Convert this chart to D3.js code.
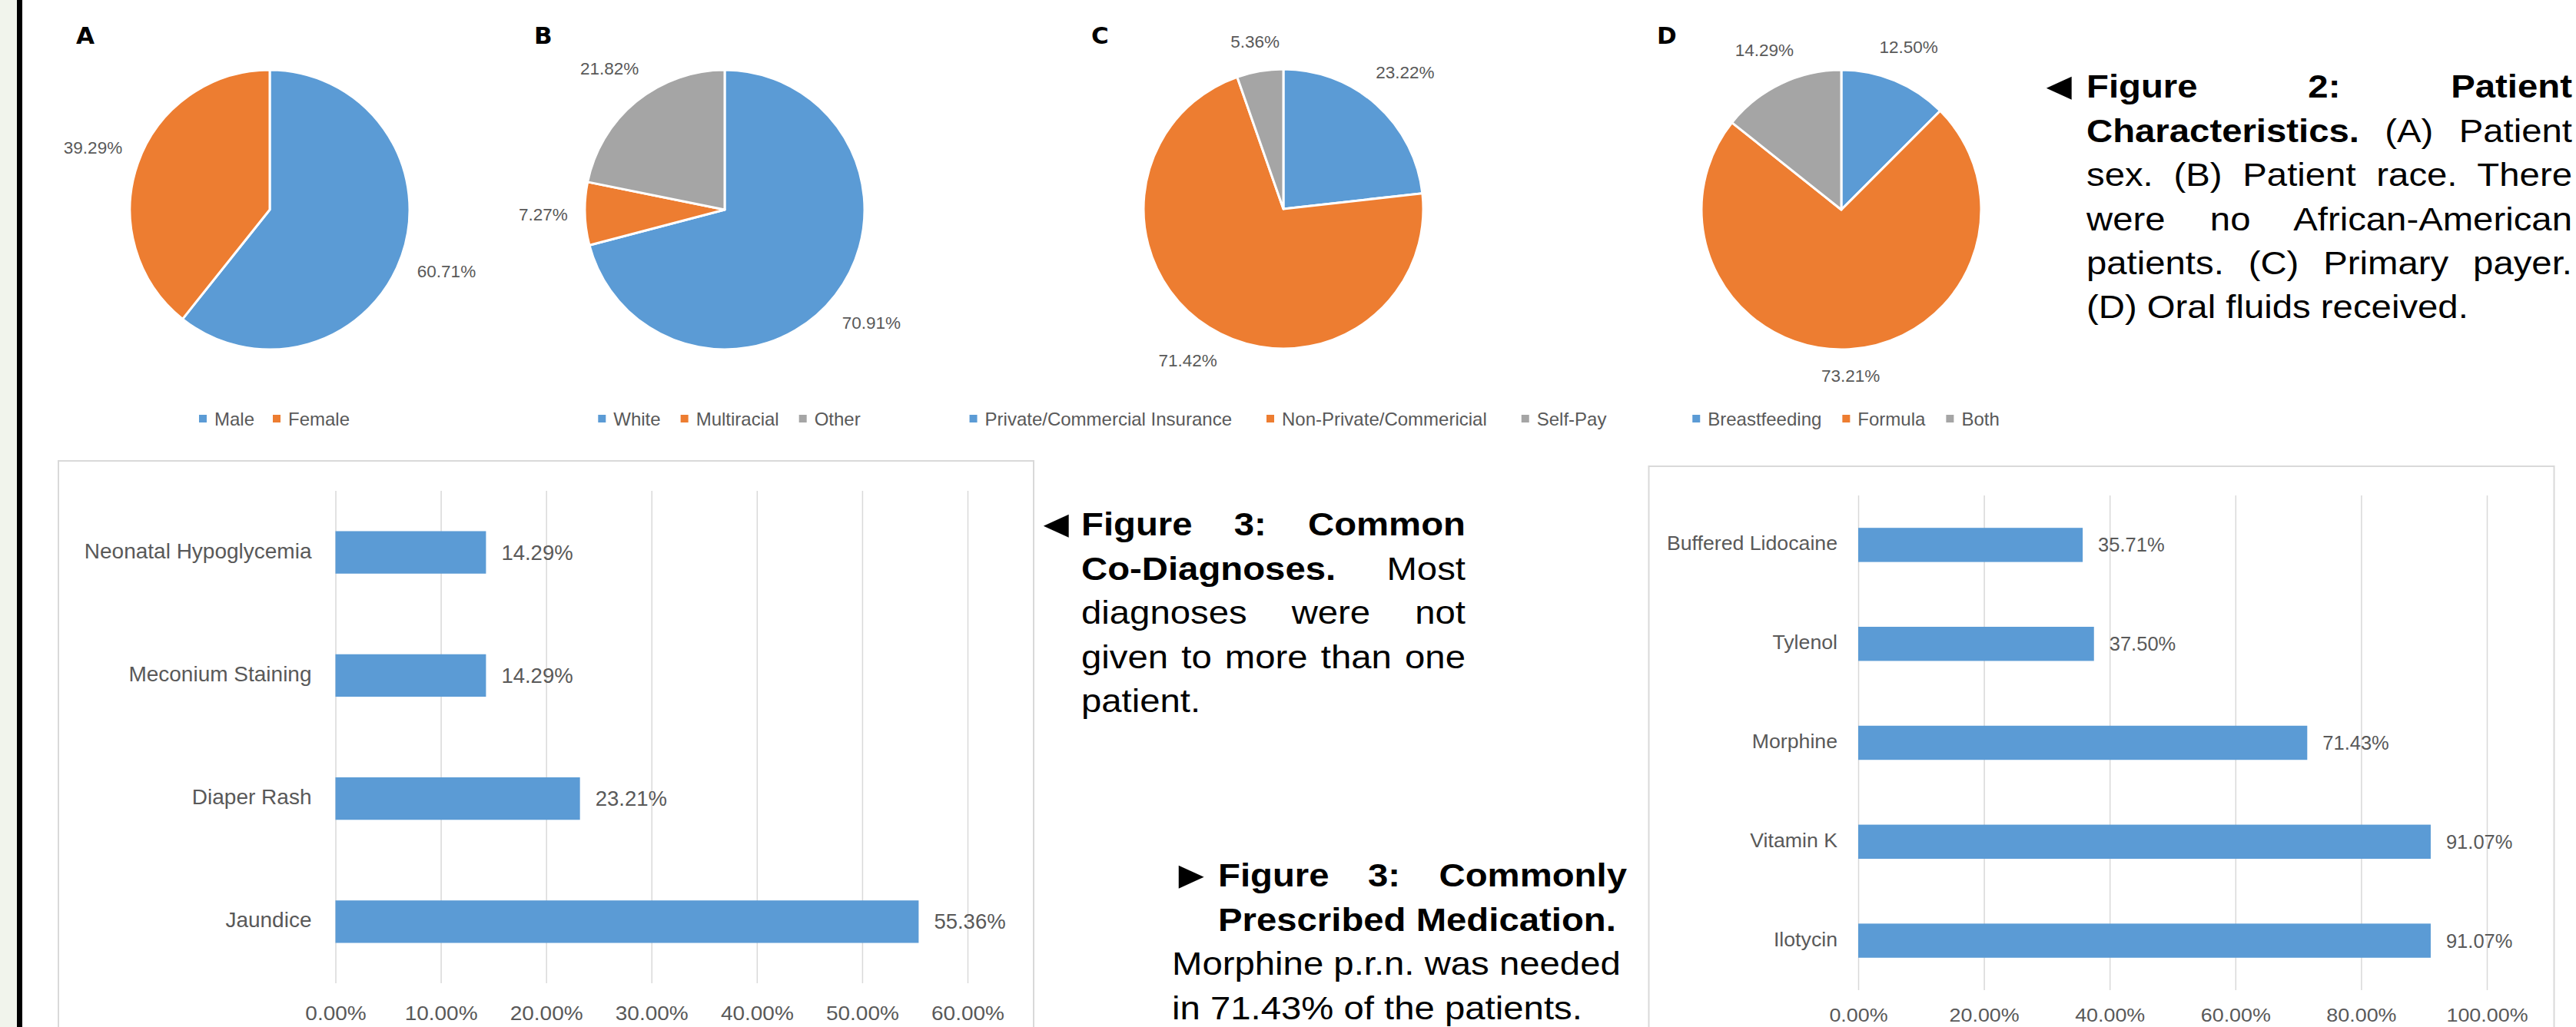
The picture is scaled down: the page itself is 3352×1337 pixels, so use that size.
<!DOCTYPE html>
<html>
<head>
<meta charset="utf-8">
<script src="https://cdn.jsdelivr.net/npm/d3@7"></script>
<style>
body { margin: 0; background: #fff; }
#page { position: relative; width: 3352px; height: 1337px; overflow: hidden; background: #fff; }
#page svg { position: absolute; left: 0; top: 0; }
.cap { position: absolute; font-family: 'Liberation Sans', Arial, sans-serif; font-size: 43px; line-height: 57.4px; color: #000; transform: scaleX(1.1); transform-origin: 0 0; }
.cap div { height: 57.4px; white-space: nowrap; }
.cap div.j { text-align: justify; text-align-last: justify; white-space: normal; }
.cap.arrow { font-size: 50px; }
</style>
</head>
<body>
<div id="page"></div>
<script>
// pie panels
const sexLabels = ['Male', 'Female'];
const sexValues = [60.71, 39.29];
const raceLabels = ['White', 'Multiracial', 'Other'];
const raceValues = [70.91, 7.27, 21.82];
const payerLabels = ['Private/Commercial Insurance', 'Non-Private/Commericial', 'Self-Pay'];
const payerValues = [23.22, 71.42, 5.36];
const fluidLabels = ['Breastfeeding', 'Formula', 'Both'];
const fluidValues = [12.50, 73.21, 14.29];
const pieColors = ['#5b9bd5', '#ed7d31', '#a5a5a5'];

// bar panels
const diagnosisLabels = ['Neonatal Hypoglycemia', 'Meconium Staining', 'Diaper Rash', 'Jaundice'];
const diagnosisValues = [14.29, 14.29, 23.21, 55.36];
const diagnosisTicks = [0, 10, 20, 30, 40, 50, 60];
const medicationLabels = ['Buffered Lidocaine', 'Tylenol', 'Morphine', 'Vitamin K', 'Ilotycin'];
const medicationValues = [35.71, 37.50, 71.43, 91.07, 91.07];
const medicationTicks = [0, 20, 40, 60, 80, 100];

// captions, one entry per printed line; j = justified
const fig2Lines = [
  {html: '<b>Figure 2: Patient</b>', j: true},
  {html: '<b>Characteristics.</b> (A) Patient', j: true},
  {html: 'sex. (B) Patient race. There', j: true},
  {html: 'were no African-American', j: true},
  {html: 'patients. (C) Primary payer.', j: true},
  {html: '(D) Oral fluids received.', j: false}
];
const fig3aLines = [
  {html: '<b>Figure 3: Common</b>', j: true},
  {html: '<b>Co-Diagnoses.</b> Most', j: true},
  {html: 'diagnoses were not', j: true},
  {html: 'given to more than one', j: true},
  {html: 'patient.', j: false}
];
const fig3bHead = [
  {html: '<b>Figure 3: Commonly</b>', j: true},
  {html: '<b>Prescribed Medication.</b>', j: false}
];
const fig3bBody = [
  {html: 'Morphine p.r.n. was needed', j: false},
  {html: 'in 71.43% of the patients.', j: false}
];

const font = "'Liberation Sans', Arial, sans-serif";
const textGrey = '#595959';
const page = d3.select('#page');
const svg = page.append('svg').attr('width', 3352).attr('height', 1337);

svg.append('rect').attr('x', 0).attr('y', 0).attr('width', 22).attr('height', 1337).attr('fill', '#f1f4ec');
svg.append('rect').attr('x', 22).attr('y', 0).attr('width', 7).attr('height', 1337).attr('fill', '#000');

const drawPie = (letter, labels, values, cx, cy, letterX, legendGap) => {
  const r = 182;
  const g = svg.append('g');

  g.append('text').attr('x', letterX).attr('y', 57)
    .attr('font-family', "'DejaVu Sans', sans-serif").attr('font-weight', 'bold')
    .attr('font-size', 31).attr('fill', '#000').text(letter);

  const pie = d3.pie().sort(null).value(d => d);
  const arc = d3.arc().innerRadius(0).outerRadius(r);
  const slices = pie(values);

  g.selectAll('.slice').data(slices).enter().append('path')
    .attr('class', 'slice')
    .attr('transform', `translate(${cx},${cy})`)
    .attr('d', arc)
    .attr('fill', (d, i) => pieColors[i])
    .attr('stroke', '#fff').attr('stroke-width', 3).attr('stroke-linejoin', 'round');

  // labels sit just outside the rim on each slice's middle angle
  g.selectAll('.plabel').data(slices).enter().append('text')
    .attr('class', 'plabel')
    .attr('font-family', font).attr('font-size', 22.5).attr('fill', textGrey)
    .attr('text-anchor', 'middle').attr('dominant-baseline', 'central')
    .text(d => d.data.toFixed(2) + '%')
    .each(function(d) {
      const a = (d.startAngle + d.endAngle) / 2;
      const sx = Math.sin(a), sy = -Math.cos(a);
      const w = this.getComputedTextLength();
      const dist = r + 22 + Math.abs(sx) * w / 2 + Math.abs(sy) * 11;
      d3.select(this).attr('x', cx + sx * dist).attr('y', cy + sy * dist);
    });

  // legend row centred under the pie
  const lg = g.append('g');
  let pos = 0;
  labels.forEach((name, i) => {
    lg.append('rect').attr('x', pos).attr('y', 545 - 5).attr('width', 10).attr('height', 10).attr('fill', pieColors[i]);
    const t = lg.append('text').attr('x', pos + 20).attr('y', 545)
      .attr('dominant-baseline', 'central')
      .attr('font-family', font).attr('font-size', 24).attr('fill', textGrey).text(name);
    pos += 20 + t.node().getComputedTextLength() + legendGap;
  });
  pos -= legendGap;
  lg.attr('transform', `translate(${cx + 6 - pos / 2},0)`);
};

drawPie('A', sexLabels, sexValues, 351, 273, 99, 24);
drawPie('B', raceLabels, raceValues, 943, 273, 695, 26);
drawPie('C', payerLabels, payerValues, 1670, 272, 1420, 45);
drawPie('D', fluidLabels, fluidValues, 2396, 273, 2156, 27);

const drawBars = (labels, values, ticks, box, plot, sizes) => {
  const g = svg.append('g');

  g.append('rect').attr('x', box[0]).attr('y', box[1])
    .attr('width', box[2] - box[0]).attr('height', 1400 - box[1])
    .attr('fill', '#fff').attr('stroke', '#d9d9d9').attr('stroke-width', 2);

  const x = d3.scaleLinear().domain([ticks[0], ticks[ticks.length - 1]]).range([plot[0], plot[1]]);
  const y = d3.scaleBand().domain(labels).range([plot[2], plot[3]])
    .paddingInner(0.655).paddingOuter(0.3275);

  const grid = g.append('g').attr('transform', `translate(0,${plot[3]})`)
    .call(d3.axisBottom(x).tickValues(ticks).tickSize(-(plot[3] - plot[2])).tickFormat(''));
  grid.select('.domain').remove();
  grid.selectAll('.tick line').attr('stroke', '#d9d9d9').attr('stroke-width', 1.5);

  const axis = g.append('g').attr('transform', `translate(0,${plot[3] + sizes.tickGap})`)
    .call(d3.axisBottom(x).tickValues(ticks).tickSize(0).tickPadding(0).tickFormat(d => d.toFixed(2) + '%'));
  axis.select('.domain').remove();
  axis.selectAll('text').attr('font-family', font).attr('font-size', sizes.tick)
    .attr('fill', textGrey).attr('y', 0).attr('dy', null).attr('dominant-baseline', 'central')
    .attr('transform', 'scale(1.12,1)');

  g.selectAll('.bar').data(values).enter().append('rect')
    .attr('class', 'bar')
    .attr('x', x(0))
    .attr('y', (d, i) => y(labels[i]))
    .attr('width', d => x(d) - x(0))
    .attr('height', y.bandwidth())
    .attr('fill', '#5b9bd5');

  g.selectAll('.cat').data(labels).enter().append('text')
    .attr('class', 'cat')
    .attr('x', x(0) - sizes.catGap)
    .attr('y', d => y(d) + y.bandwidth() / 2 - 2)
    .attr('text-anchor', 'end').attr('dominant-baseline', 'central')
    .attr('font-family', font).attr('font-size', sizes.cat).attr('fill', textGrey)
    .text(d => d);

  g.selectAll('.val').data(values).enter().append('text')
    .attr('class', 'val')
    .attr('x', d => x(d) + 20)
    .attr('y', (d, i) => y(labels[i]) + y.bandwidth() / 2)
    .attr('dominant-baseline', 'central')
    .attr('font-family', font).attr('font-size', sizes.val).attr('fill', textGrey)
    .text(d => d.toFixed(2) + '%');
};

drawBars(diagnosisLabels, diagnosisValues, diagnosisTicks,
  [76, 600, 1345], [436.5, 1259, 639, 1280],
  {tick: 25, cat: 28, val: 27.5, catGap: 31, tickGap: 40});
drawBars(medicationLabels, medicationValues, medicationTicks,
  [2145.5, 607, 3323.5], [2418, 3236, 645, 1289],
  {tick: 24, cat: 26.7, val: 25.5, catGap: 27, tickGap: 33});

const caption = (lines, left, top, width) => {
  const c = page.append('div').attr('class', 'cap')
    .style('left', left + 'px').style('top', top + 'px').style('width', width + 'px');
  lines.forEach(l => {
    c.append('div').attr('class', l.j ? 'j' : null).html(l.html);
  });
};
const arrow = (ch, left, top) => {
  page.append('div').attr('class', 'cap arrow')
    .style('left', left + 'px').style('top', top + 'px').html(ch);
};

caption(fig2Lines, 2715, 84.4, 574.5);
arrow('&#9668;', 2652, 84.4);
caption(fig3aLines, 1407, 654.4, 454.5);
arrow('&#9668;', 1347, 654.4);
caption(fig3bHead, 1585, 1111.4, 483.6);
caption(fig3bBody, 1525, 1226.2, 560);
arrow('&#9658;', 1523, 1111.4);
</script>
</body>
</html>
